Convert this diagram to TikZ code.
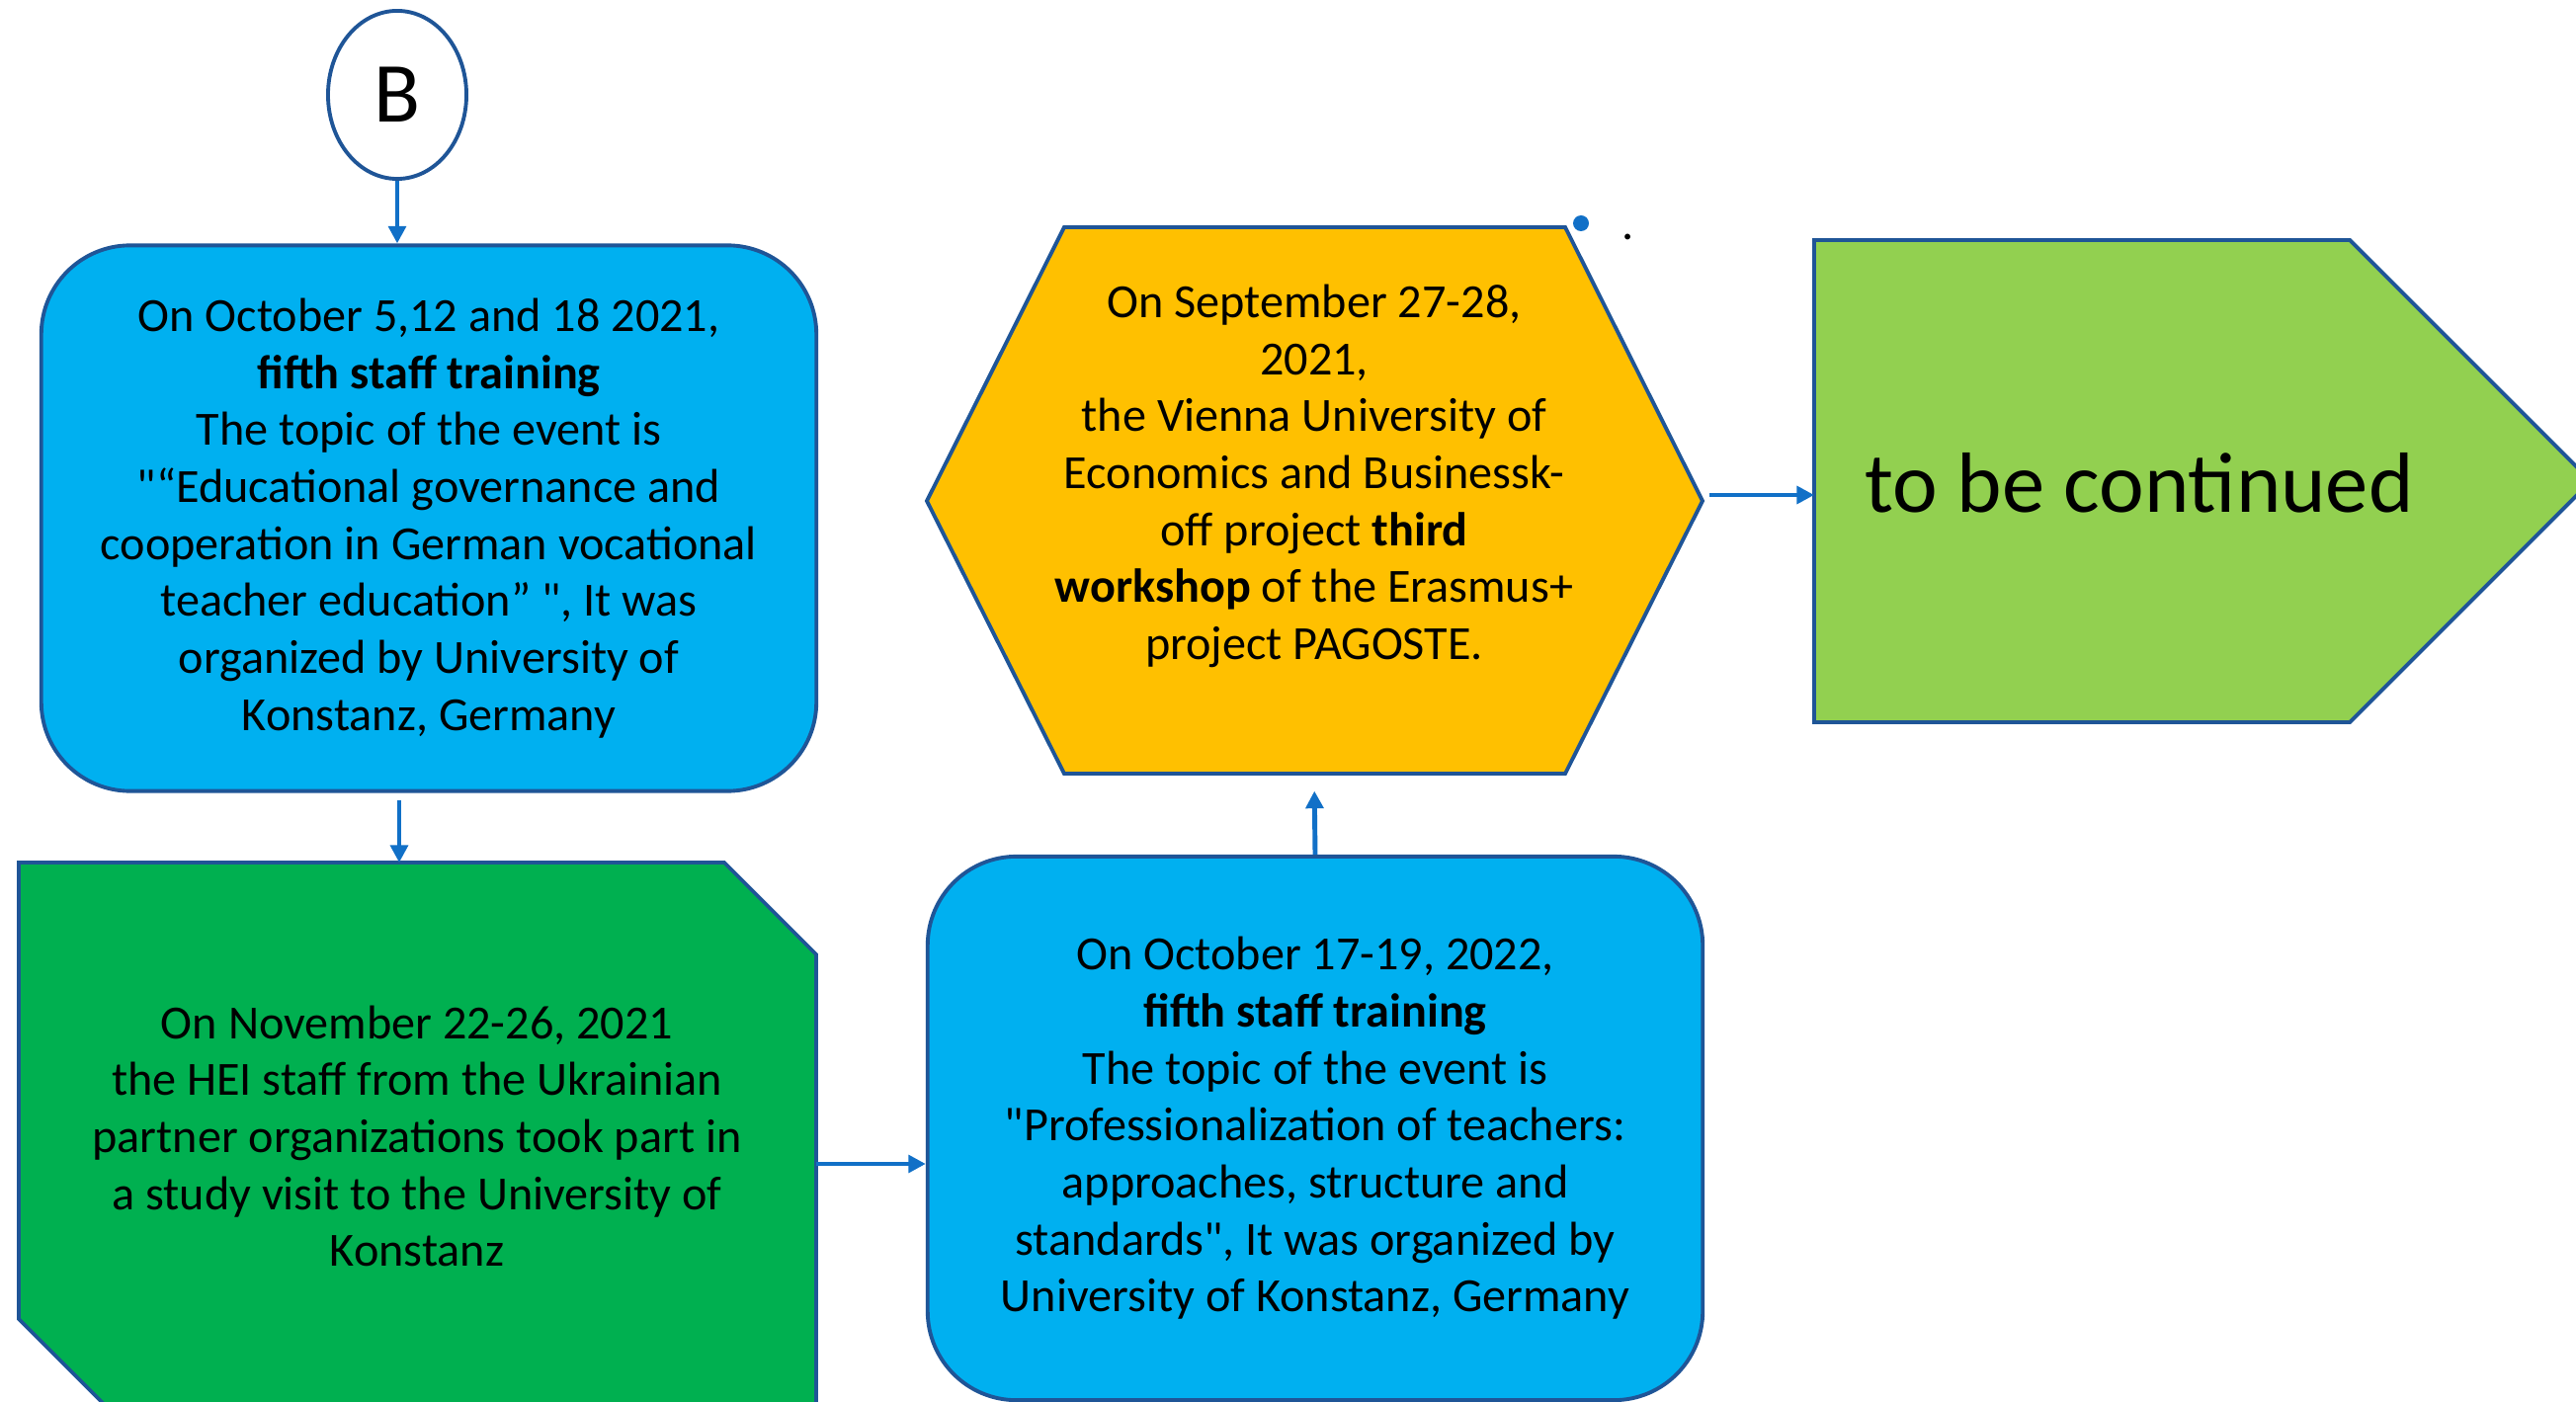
\documentclass[tikz,border=0pt]{standalone}
\usepackage{fontspec}
\setmainfont{Carlito}[Ligatures=TeXOff]
\usetikzlibrary{shapes.geometric,arrows.meta,positioning}

\definecolor{edgeblue}{HTML}{1F5597}
\definecolor{arrowblue}{HTML}{1170C7}
\definecolor{skyfill}{HTML}{00B0F0}
\definecolor{greenfill}{HTML}{00B050}
\definecolor{yellowfill}{HTML}{FFC000}
\definecolor{limefill}{HTML}{92D050}

\begin{document}
\begin{tikzpicture}[x=0.01cm, y=-0.01cm,
  txt/.style={align=center, font=\fontsize{13.7}{16.4}\selectfont},
  bigtxt/.style={font=\fontsize{24.6}{29}\selectfont},
  roundbox/.style={txt, draw=edgeblue, line width=1.1pt, fill=skyfill, rounded corners=0.9cm, minimum width=7.84cm, minimum height=5.52cm},
  outline/.style={draw=edgeblue, line width=1.1pt, line join=miter},
  flow/.style={draw=arrowblue, line width=1.4pt, -{Triangle[length=5pt,width=5pt]}}]
\useasboundingbox (0,0) rectangle (2607,1419);
\clip (0,0) rectangle (2607,1419);

% shapes drawn by hand
\draw[outline, fill=greenfill] (19,873) -- (733,873) -- (826,966) -- (826,1428) -- (112,1428) -- (19,1335) -- cycle;
\draw[outline, fill=yellowfill] (938,507) -- (1077,230) -- (1584,230) -- (1723,507) -- (1584,783) -- (1077,783) -- cycle;
\draw[outline, fill=limefill] (1836,243) -- (2378,243) -- (2622,487) -- (2378,731) -- (1836,731) -- cycle;

\coordinate (visitN) at (404,873);
\coordinate (visitE) at (826,1178);
\coordinate (viennaS) at (1330,783);
\coordinate (viennaE) at (1723,501);
\coordinate (contW) at (1836,501);

\node[ellipse, draw=edgeblue, line width=1.1pt, fill=white, minimum width=1.4cm, minimum height=1.7cm, inner sep=0pt, bigtxt] (B) at (402,96) {B};

\node[roundbox] (train1) at (434,524.5) {On October 5,12 and 18 2021,\\ \textbf{fifth staff training}\\ The topic of the event is\\ "“Educational governance and\\ cooperation in German vocational\\ teacher education” ", It was\\ organized by University of\\ Konstanz, Germany};

\node[txt] (visit) at (422,1150) {On November 22-26, 2021\\ the HEI staff from the Ukrainian\\ partner organizations took part in\\ a study visit to the University of\\ Konstanz};

\node[roundbox, minimum height=5.5cm] (train2) at (1331,1142) {On October 17-19, 2022,\\ \textbf{fifth staff training}\\ The topic of the event is\\ "Professionalization of teachers:\\ approaches, structure and\\ standards", It was organized by\\ University of Konstanz, Germany};

\node[txt] (vienna) at (1330,482) {On September 27-28,\\ 2021,\\ the Vienna University of\\ Economics and Businessk-\\ off project \textbf{third}\\ \textbf{workshop} of the Erasmus+\\ project PAGOSTE.};

\node[bigtxt] (cont) at (2165,489) {to be continued};

\fill[arrowblue] (1600,226) circle[radius=8];
\node[txt, anchor=base, inner sep=0pt] (dot) at (1648,243) {.};

\draw[flow] (B.south) -- (B.south |- train1.north);
\draw[flow, shorten <=2pt] (visitN |- train1.south) -- (visitN);
\draw[flow] (visitE) -- (visitE -| train2.west);
\draw[flow, shorten >=5pt] (train2.north) -- (viennaS);
\draw[flow, shorten <=2pt] (viennaE) -- (contW);
\end{tikzpicture}
\end{document}
